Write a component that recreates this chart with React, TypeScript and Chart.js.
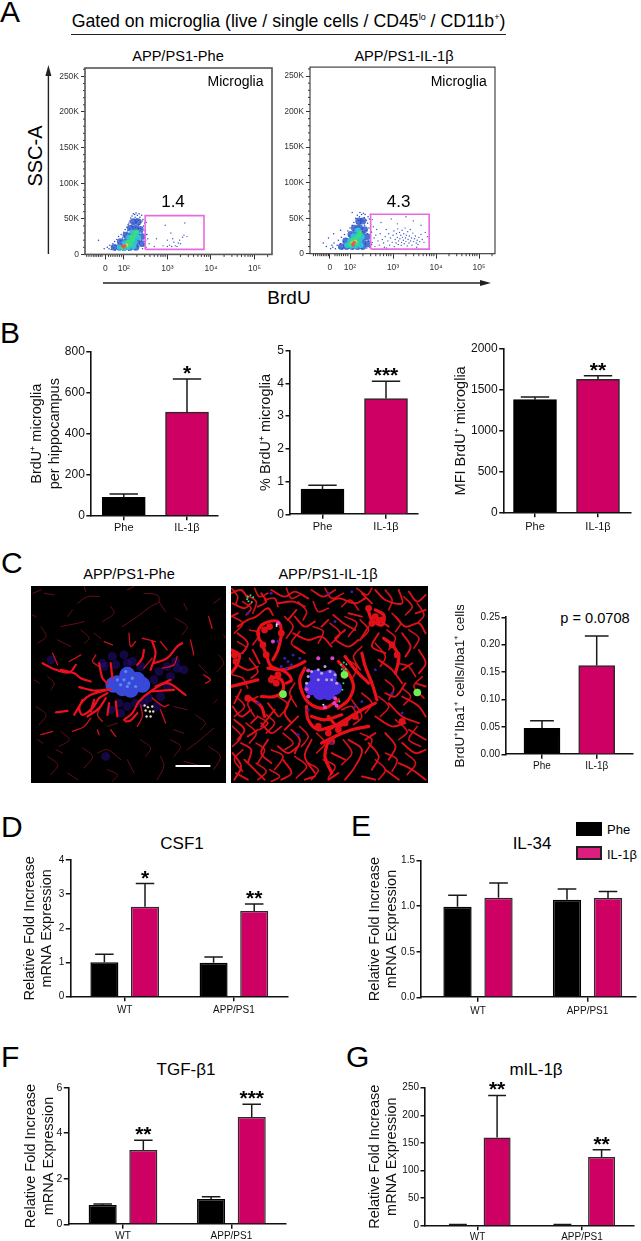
import { useEffect, useRef } from 'react';
import { Chart, registerables } from 'chart.js';

Chart.register(...registerables);

const FONT = '"Liberation Sans", Arial, sans-serif';
Chart.defaults.font.family = FONT;

// ---------- bar data ----------
const groupCats = ['Phe', 'IL-1β'];
const hippoValues = [90, 505];
const hippoErrTop = [106, 667];
const hippoStars = ['', '*'];
const hippoTicks = ['0', '200', '400', '600', '800'];

const percentValues = [0.77, 3.54];
const percentErrTop = [0.886, 4.07];
const percentStars = ['', '***'];
const percentTicks = ['0', '1', '2', '3', '4', '5'];

const mfiValues = [1381, 1629];
const mfiErrTop = [1413, 1674];
const mfiStars = ['', '**'];
const mfiTicks = ['0', '500', '1000', '1500', '2000'];

const ibaValues = [0.0474, 0.162];
const ibaErrTop = [0.0614, 0.216];
const ibaTicks = ['0.00', '0.05', '0.10', '0.15', '0.20', '0.25'];

const genotypes = ['WT', 'APP/PS1'];

const csf1Phe = [1.005, 0.995];
const csf1PheErr = [1.24, 1.16];
const csf1Il = [2.63, 2.51];
const csf1IlErr = [3.31, 2.71];
const csf1Stars = ['*', '**'];
const csf1Ticks = ['0', '1', '2', '3', '4'];

const il34Phe = [0.995, 1.072];
const il34PheErr = [1.12, 1.189];
const il34Il = [1.094, 1.09];
const il34IlErr = [1.255, 1.163];
const il34Ticks = ['0.0', '0.5', '1.0', '1.5'];

const tgfPhe = [0.85, 1.11];
const tgfPheErr = [0.89, 1.21];
const tgfIl = [3.26, 4.71];
const tgfIlErr = [3.69, 5.27];
const tgfStars = ['**', '***'];
const tgfTicks = ['0', '2', '4', '6'];

const milPhe = [1, 1];
const milPheErr = [2, 2];
const milIl = [160, 124.4];
const milIlErr = [236, 137.7];
const milStars = ['**', '**'];
const milTicks = ['0', '50', '100', '150', '200', '250'];

// ---------- flow cytometry data: [decade position, SSC-A in K] pairs ----------
const ssaTicks = ['0', '50K', '100K', '150K', '200K', '250K'];
const ssaTickValues = [0, 50, 100, 150, 200, 250];
const ssaMinor = [10, 20, 30, 40, 60, 70, 80, 90, 110, 120, 130, 140, 160, 170, 180, 190, 210, 220, 230, 240, 260];
const brduTickLabels = ['0', '10²', '10³', '10⁴', '10⁵'];
const brduTicksLeft = [1.58, 2, 3, 4, 5];
const brduTicksRight = [1.53, 2, 3, 4, 5];
const brduMinor = [1.15, 1.2, 1.25, 1.3, 1.34, 1.38, 1.42, 1.46, 1.5, 1.65, 1.7, 1.75, 1.8, 1.85, 1.9, 1.95, 2.3, 2.48, 2.6, 2.7, 2.78, 2.85, 2.9, 2.95, 3.3, 3.48, 3.6, 3.7, 3.78, 3.85, 3.9, 3.95, 4.3, 4.48, 4.6, 4.7, 4.78, 4.85, 4.9, 4.95, 5.3];
const gateXLeft = [2.49, 3.84];
const gateYLeft = [7, 54.5];
const gateXRight = [2.48, 3.84];
const gateYRight = [6.5, 55.5];

const leftBlueFill = [1.78,10, 1.9,10, 2.02,10, 2.15,10, 2.28,10, 1.92,18, 2.05,18, 2.18,18, 2.3,18, 2.42,15, 2.05,27, 2.18,27, 2.3,27, 2.42,25, 2.15,37, 2.27,37, 2.38,35, 2.22,46, 2.33,46];
const leftCyan = [1.9,10, 2.0,9, 2.1,10, 2.22,11, 2.02,16, 2.14,17, 2.25,17, 2.12,24, 2.24,24, 2.33,24, 2.2,31, 2.3,31];
const leftGreen = [1.98,10, 2.08,12, 2.16,14, 2.1,18, 2.2,20, 2.24,26, 2.28,31, 2.18,24];
const leftYellow = [2.0,11, 2.06,13];
const leftRed = [1.97,12, 2.03,12, 2.0,10];
const leftBlue = [1.42,20, 1.55,8, 1.62,10, 1.66,8, 1.68,13, 1.71,7, 1.73,11, 1.75,15, 1.77,9, 1.79,18, 1.8,6, 1.82,13, 1.84,21, 1.85,8, 1.87,16, 1.88,25, 1.9,11, 1.91,7, 1.93,19, 1.94,28, 1.95,14, 1.97,23, 1.98,6, 2.0,31, 2.01,18, 2.02,26, 2.03,35, 2.04,8, 2.06,29, 2.07,38, 2.08,21, 2.09,33, 2.1,42, 2.11,6, 2.12,24, 2.13,36, 2.14,47, 2.15,30, 2.16,51, 2.17,9, 2.18,40, 2.19,54, 2.2,27, 2.21,44, 2.22,57, 2.23,34, 2.24,49, 2.25,7, 2.26,52, 2.27,38, 2.28,58, 2.29,45, 2.3,31, 2.31,55, 2.32,11, 2.33,48, 2.34,41, 2.35,57, 2.36,26, 2.37,52, 2.38,36, 2.39,45, 2.4,19, 2.41,55, 2.42,30, 2.43,8, 2.44,49, 2.45,40, 2.46,14, 2.47,24, 2.48,44, 2.49,34, 2.5,20, 2.51,10, 2.52,28, 2.2,39, 2.12,44, 2.25,56, 2.3,50, 2.36,42, 2.42,47];
const leftGate = [2.52,45, 2.5,33, 2.55,22, 2.58,15, 2.53,28, 2.95,41, 3.4,44, 3.35,24, 2.9,12, 3.0,11, 3.05,13, 3.1,11, 3.15,17, 3.12,22, 3.3,15, 3.22,11, 3.18,12, 2.75,22, 3.0,20, 3.08,30, 3.38,27, 3.45,25, 3.25,16, 2.7,11, 3.28,20];

const rightBlueFill = [1.8,10, 1.92,10, 2.05,10, 2.18,10, 2.3,10, 1.9,18, 2.03,18, 2.16,18, 2.29,18, 2.42,14, 2.02,27, 2.15,27, 2.28,27, 2.4,24, 2.1,36, 2.22,37, 2.34,34, 2.2,46, 2.3,46];
const rightCyan = [1.93,12, 2.03,11, 2.14,11, 2.25,12, 2.0,18, 2.1,19, 2.22,19, 2.08,25, 2.18,26, 2.28,24, 2.18,33];
const rightGreen = [2.0,13, 2.08,13, 2.16,15, 2.06,19, 2.14,21, 2.2,25, 2.23,29];
const rightYellow = [2.05,15, 2.12,17];
const rightRed = [2.06,14, 2.1,16, 2.08,12];
const rightBlue = [1.38,15, 1.45,10, 1.5,22, 1.55,7, 1.58,12, 1.6,9, 1.63,15, 1.66,7, 1.7,12, 1.73,19, 1.75,8, 1.78,14, 1.8,23, 1.82,7, 1.85,17, 1.87,27, 1.9,11, 1.92,21, 1.95,32, 1.97,8, 1.98,25, 2.0,36, 2.02,15, 2.03,28, 2.05,40, 2.06,7, 2.08,32, 2.09,44, 2.1,22, 2.12,36, 2.13,50, 2.14,7, 2.15,29, 2.16,42, 2.17,54, 2.18,33, 2.19,47, 2.2,9, 2.21,38, 2.22,52, 2.23,58, 2.24,43, 2.25,31, 2.26,49, 2.27,55, 2.28,7, 2.29,36, 2.3,46, 2.31,57, 2.32,25, 2.33,51, 2.34,40, 2.35,55, 2.36,14, 2.37,33, 2.38,47, 2.39,8, 2.4,28, 2.41,43, 2.42,52, 2.43,18, 2.44,36, 2.45,49, 2.46,9, 2.47,24, 2.48,41, 2.49,31, 2.5,13, 2.47,55, 1.78,33, 2.05,58, 1.62,28];
const rightGate = [2.52,48, 2.54,38, 2.5,30, 2.56,22, 2.52,16, 2.58,10, 2.6,26, 2.62,34, 2.65,18, 2.68,12, 2.7,28, 2.72,44, 2.75,20, 2.78,15, 2.8,9, 2.82,24, 2.84,34, 2.88,18, 2.9,28, 2.92,12, 2.94,22, 2.96,49, 2.98,16, 3.0,26, 3.02,32, 3.03,10, 3.05,20, 3.07,15, 3.08,28, 3.1,23, 3.11,35, 3.12,13, 3.13,18, 3.15,30, 3.16,21, 3.18,26, 3.19,12, 3.2,16, 3.21,33, 3.22,23, 3.24,19, 3.25,28, 3.26,14, 3.28,36, 3.29,22, 3.3,17, 3.31,26, 3.33,11, 3.34,31, 3.35,20, 3.37,15, 3.38,25, 3.4,34, 3.41,18, 3.43,22, 3.44,12, 3.46,29, 3.48,17, 3.5,21, 3.52,25, 3.54,15, 3.56,19, 3.58,13, 3.6,23, 3.62,17, 3.65,27, 3.68,20, 3.72,16, 3.75,30, 3.8,24, 3.3,52, 3.47,46, 3.1,42, 2.85,8, 3.55,9, 3.65,40];

// ---------- microscopy panels, flat x,y polylines traced on a 600 grid ----------
const leftThick = [
  [155,312,200,322,250,318],[140,395,165,355,190,335,240,320],[165,350,155,375,165,395,195,375,215,345,240,330],
  [85,388,120,383],[180,400,215,375,235,345],[290,410,315,390,335,355,370,325,420,300,475,335],[370,325,440,320],
  [385,310,430,290],[295,415,310,412,330,390],[240,300,225,285,215,240],[255,285,250,240],[330,245,345,225,350,200],
  [380,240,420,225,450,190,465,180],[370,260,385,210,375,175],[45,240,80,258,125,268,145,245],[100,260,140,270,160,285,190,295],
  [245,360,240,395],[265,355,270,400],[200,350,190,385],
];
const leftMid = [
  [490,170,500,215],[305,150,310,190,325,175],[230,175,255,185],[75,210,90,245],[400,380,415,420],[135,445,170,430,190,405],
  [250,440,265,460],[210,440,215,455],[530,275,550,290,535,300],[545,100,555,135],[40,455,75,445],[125,235,160,215],[400,175,420,200],[345,165,385,175],
  [215,250,195,235,205,215],[350,255,375,225],[405,255,440,245,450,220],[225,360,210,395,225,415],[340,365,345,400,330,430],[375,345,410,370,425,365],
];
const leftDim = [
  [350,30,390,35,395,55,370,70,330,100,285,130],[395,55,415,85],[150,60,180,40,215,40],[170,10,175,25],[100,130,150,120,170,115],
  [50,30,80,35],[15,95,25,100],[200,150,220,165],[480,500,520,470,560,435],[30,470,45,480],[400,520,410,550,390,590],[470,535,510,545],
  [120,570,150,590],[210,510,240,500,280,530],[85,500,105,510],[515,245,540,270],[20,290,35,300],[60,280,80,300,70,320],[300,530,320,570],
  [440,440,470,450],[560,360,570,350],[440,370,480,380],[15,30,40,20],[590,155,596,165],[120,100,135,80],[480,80,470,60],[90,170,130,190],
  [225,115,260,90,250,70],[300,20,320,10],[445,105,480,130,465,155],[560,60,580,45],[575,215,590,240,570,265],[505,395,535,420,520,440],
  [160,140,185,165,170,180],[30,180,55,160,40,130],[25,370,55,395,35,425],[100,445,125,470,95,490],[165,495,195,520,170,555],[340,470,370,495,355,520],
  [240,430,270,420],[430,470,460,490,440,520],[545,490,580,520,560,560],[240,560,270,575,255,595],[60,520,90,545,70,575],
];
const leftHaze = [255,220, 290,215, 230,250, 450,255, 470,260, 420,250, 380,290, 400,340, 390,370, 300,370, 280,390, 225,240, 430,280, 70,230, 235,520, 250,380, 350,360, 340,250, 300,240, 420,310, 265,245, 315,235, 395,265, 365,345, 325,360, 275,360, 445,235];
const leftCore = [300,295, 270,300, 300,275, 330,290, 310,320, 285,315, 320,305, 258,305, 345,305];
const leftSpark = [290,290, 305,300, 280,305, 315,285, 300,310, 325,310, 270,290, 295,265];
const leftCell = [352,367, 362,372, 375,370, 355,382, 368,385, 378,385, 358,400, 370,400];

const rightThick = [
  [95,170,90,145,110,120,150,115,160,150,150,200,135,230],[100,175,115,215,130,250,170,265,190,290,175,300],[120,255,160,260,200,250,230,235],
  [400,210,410,250,430,300,445,350],[230,255,215,290,225,335,250,365,290,375,330,350],[330,235,360,270,375,310,360,350,330,375],
  [420,85,430,110,460,125,465,95,440,80],[465,165,490,185,510,220,500,270],[10,200,35,215,25,250,10,270],[235,370,240,410,270,440,310,430],
  [300,440,350,410,400,380,440,360],[280,480,320,460,370,440,420,430],[300,470,290,520,310,570],[130,280,160,290,165,320,140,340,100,340],
  [60,340,100,370,110,400],[10,310,50,300,90,290],[420,300,380,260,350,220],[300,400,330,430,370,400],[250,400,290,410,340,395],
];
const rightMid = [
  [10,30,40,20,60,45],[15,60,50,75,70,60],[30,130,60,110,85,100,120,75,135,95],[130,20,170,40,200,25,240,45],[150,60,195,55,230,70],
  [200,100,230,130,260,115],[250,20,285,40,320,20],[300,60,330,45,380,60,410,45],[315,95,345,120,380,140],[360,90,400,100],
  [440,20,470,50,520,60,510,20],[540,25,565,55,590,35],[500,100,530,130,570,120,590,150],[520,150,545,190,530,220],[570,200,590,240,570,270],
  [450,230,490,260,520,300],[530,300,500,340,470,330],[195,150,240,170,280,160,310,190],[320,170,360,190,390,170],[200,190,230,210],
  [30,150,60,180,45,210],[20,240,60,260,90,250],[75,200,95,240],[450,150,430,190,470,210],[520,340,570,370,590,400],[480,360,520,400,570,420],
  [440,400,490,430,530,420],[540,440,590,470],[470,450,500,490,480,530],[520,480,560,510,590,500],[420,480,450,520,430,560],[510,540,550,560,590,590],
  [360,470,400,500,380,550,350,590],[310,510,350,530],[250,470,230,520,260,570],[190,440,215,470,200,510],[150,490,180,510,210,490],[165,530,190,570,160,590],
  [100,420,130,450,160,430],[120,470,100,510,130,540],[50,530,80,560,110,590],[40,480,70,500,60,540],[20,410,50,440,30,470],[15,510,40,550,20,590],
  [70,380,40,400,15,370],[190,340,170,390,190,420],[120,360,150,400],[210,400,170,440],[90,440,60,460],[440,450,410,470],[330,570,300,590],[260,580,230,590],
  [100,30,115,55,90,70],[205,80,180,110],[350,140,320,165],[480,130,450,110],[420,130,395,170],[560,90,590,80],[550,240,520,260],[40,320,20,360],[70,420,90,400],
  [60,590,25,570],[140,380,100,430],[400,580,440,590],[470,560,510,590],[560,300,590,310],[400,30,430,60],[300,110,280,130],[30,90,10,100],
];
const rightTwigs = [
  [12,15,30,40,25,60],[45,55,70,75,55,95],[80,15,95,40,120,30],[110,50,140,45,150,70],[175,15,190,45,215,35],[210,55,235,85,225,110],[255,55,270,85,300,75],
  [290,15,310,45,345,30],[340,70,365,50,390,80],[385,15,415,35,430,15],[395,110,420,140,400,165],[470,20,490,50,480,80],[525,40,550,70,530,95],[565,60,585,95,565,120],
  [490,90,515,120,500,145],[540,140,570,165,555,195],[475,140,500,165,480,200],[440,180,470,220,455,250],[505,240,540,250,560,280],[580,280,555,310,585,345],
  [520,315,545,340,525,365],[470,290,495,315,480,350],[450,340,480,370,455,400],[400,330,430,360,410,390],[370,350,400,400,375,425],[500,410,535,445,510,470],
  [565,430,540,470,575,490],[470,510,505,530,490,565],[530,510,560,540,535,575],[440,530,470,560,450,590],[395,450,430,470,410,510],[345,470,370,510,340,545],
  [285,530,320,550,300,585],[240,540,270,560,250,590],[200,520,235,550,205,585],[130,500,165,520,140,560],[85,480,110,500,90,540],[45,500,20,530,45,565],
  [85,540,115,565,90,590],[125,560,155,580,130,595],[15,430,40,460,15,490],[55,420,85,450,65,480],[115,395,140,420,115,450],[165,450,195,480,170,500],
  [215,430,240,460,220,490],[265,450,290,480,265,510],[90,340,60,360,80,400],[25,340,50,370,20,400],[15,275,45,285,60,315],[65,225,90,265,70,285],
  [30,175,55,195,20,225],[65,140,95,150,75,185],[15,100,45,120,20,150],[55,35,85,55,75,90],[170,100,195,130,175,165],[215,145,190,180,220,205],
  [255,130,285,145,270,180],[305,120,335,150,310,180],[350,100,385,120,360,160],[400,190,375,220,395,260],[200,300,185,330,205,370],[355,230,385,250,370,290],
  [340,380,370,370,390,410],[150,340,180,365,155,400],[90,400,120,420,95,440],
];
const rightBodies = [440,100, 430,120, 450,112, 130,290, 150,275, 145,300, 420,75, 460,110, 490,185, 505,215, 300,450, 330,440, 110,140, 125,130, 20,215, 25,235, 270,430, 350,420, 160,150, 105,185, 115,215, 310,475, 60,345, 380,400, 520,415];
const rightSpecks = [180,235, 170,225, 190,245, 215,225, 160,250, 240,380, 400,355, 380,370, 195,215, 175,255, 60,90, 130,30, 320,115, 370,25, 520,390, 440,260, 300,30, 210,455, 90,360, 490,330, 310,480, 150,175];
const rightCore = [285,310, 265,300, 305,300, 275,330, 300,330, 250,315, 320,315, 285,285, 265,280, 305,280];
const rightSpark = [240,280, 250,265, 270,260, 290,250, 305,265, 320,275, 235,300, 325,300, 280,270, 295,290, 270,290, 310,290];
const rightMagenta = [240,262, 235,318, 320,345, 325,368, 312,225, 270,225, 290,372, 135,175, 150,120, 240,340, 318,360];
const rightGreenRings = [60,40, 76,42, 62,54, 72,56, 68,36, 58,48, 338,245, 354,243, 340,258, 352,258, 346,238, 346,262, 565,320, 565,335, 333,355, 345,300, 342,320];
const rightGreenBright = [165,333, 348,275, 565,328];
const rightWhite = [146,128, 146,124, 285,365];

const scaleBarX = [445, 550];
const scaleBarY = [549, 549];

// ---------- helpers ----------
const MAGENTA = '#CE0063';
const AXIS = '#111';

type Box = { cl: number; ct: number; cr: number; cb: number; pl: number; pt: number; pr: number; pb: number };

const toPoints = (flat: number[]) => {
  const out: { x: number; y: number }[] = [];
  for (let i = 0; i < flat.length; i += 2) out.push({ x: flat[i], y: flat[i + 1] });
  return out;
};
const toPaths = (paths: number[][]) => {
  const out: any[] = [];
  paths.forEach((p) => {
    out.push(...toPoints(p));
    out.push({ x: null, y: null });
  });
  return out;
};

const boxOptions = (b: Box) => ({
  responsive: false,
  animation: false as const,
  maintainAspectRatio: false,
  layout: { autoPadding: false, padding: { top: b.pt - b.ct, right: b.cr - b.pr, left: 0, bottom: 0 } },
});

const errPlugin = {
  id: 'errorWhiskers',
  afterDatasetsDraw(chart: any) {
    const { ctx, scales } = chart;
    chart.data.datasets.forEach((ds: any, di: number) => {
      chart.getDatasetMeta(di).data.forEach((bar: any, i: number) => {
        const top = scales.y.getPixelForValue(ds.errorTop[i]);
        const half = bar.width * 0.33;
        ctx.save();
        ctx.strokeStyle = '#1a1a1a';
        ctx.lineWidth = 1.5;
        ctx.beginPath();
        ctx.moveTo(bar.x, bar.y);
        ctx.lineTo(bar.x, top);
        ctx.moveTo(bar.x - half, top);
        ctx.lineTo(bar.x + half, top);
        ctx.stroke();
        const star = ds.stars && ds.stars[i];
        if (star) {
          ctx.fillStyle = '#000';
          ctx.font = `bold 21px ${FONT}`;
          ctx.textAlign = 'center';
          ctx.textBaseline = 'alphabetic';
          ctx.fillText(star, bar.x, top + 1);
        }
        ctx.restore();
      });
    });
  },
};

type BarSpec = {
  box: Box;
  cats: string[];
  datasets: any[];
  yMax: number;
  yTicks: string[];
  title: string[];
  titlePad: number;
  titleSize: number;
  titleLine: number;
  centers: [number, number];
  tickSize: number;
  xTickSize: number;
  xPad: number;
  percent?: [number, number];
  thickness?: number;
};

function barConfig(s: BarSpec) {
  const b = s.box;
  const W = b.pr - b.pl;
  const gap = s.centers[1] - s.centers[0];
  return {
    type: 'bar',
    data: { labels: s.cats, datasets: s.datasets },
    plugins: [errPlugin],
    options: {
      ...boxOptions(b),
      barThickness: s.thickness,
      categoryPercentage: s.percent ? s.percent[0] : 1,
      barPercentage: s.percent ? s.percent[1] : 1,
      plugins: { legend: { display: false }, tooltip: { enabled: false } },
      scales: {
        x: {
          type: 'category',
          offset: true,
          afterBuildTicks: (sc: any) => {
            sc._valueRange = W / gap;
            sc._startValue = -(s.centers[0] - b.pl) / gap;
          },
          afterFit: (sc: any) => {
            sc.height = b.cb - b.pb;
          },
          grid: { display: true, offset: false, drawOnChartArea: false, drawTicks: true, tickLength: 4.5, color: AXIS, lineWidth: 1.5 },
          border: { display: true, color: AXIS, width: 1.6 },
          ticks: { color: '#111', padding: s.xPad, font: { size: s.xTickSize }, maxRotation: 0, autoSkip: false },
        },
        y: {
          type: 'linear',
          min: 0,
          max: s.yMax,
          afterBuildTicks: (sc: any) => {
            sc.ticks = s.yTicks.map((t) => ({ value: +t }));
          },
          afterFit: (sc: any) => {
            sc.width = b.pl - b.cl;
          },
          grid: { display: true, drawOnChartArea: false, drawTicks: true, tickLength: 4.5, color: AXIS, lineWidth: 1.5 },
          border: { display: true, color: AXIS, width: 1.6 },
          ticks: { color: '#111', padding: 1.5, font: { size: s.tickSize }, callback: (_v: any, i: number) => s.yTicks[i] },
          title: {
            display: true,
            text: s.title,
            color: '#111',
            font: { size: s.titleSize, lineHeight: s.titleLine },
            padding: { top: s.titlePad, bottom: 0 },
          },
        },
      },
    },
  };
}

const singleDs = (values: number[], errorTop: number[], stars: string[]) => ({
  data: values,
  errorTop,
  stars,
  backgroundColor: ['#000', MAGENTA],
  borderColor: ['#000', '#2a2a2a'],
  borderWidth: 1.5,
});
const groupDs = (name: string, values: number[], errorTop: number[], color: string, stars?: string[]) => ({
  label: name,
  data: values,
  errorTop,
  stars,
  backgroundColor: color,
  borderColor: color === '#000' ? '#000' : '#2a2a2a',
  borderWidth: 1.5,
});

const b1Box: Box = { cl: 20, ct: 340, cr: 225, cb: 540, pl: 90.8, pt: 351.7, pr: 218, pb: 515.7 };
const b2Box: Box = { cl: 250, ct: 340, cr: 425, cb: 540, pl: 290, pt: 350.7, pr: 417.5, pb: 514.3 };
const b3Box: Box = { cl: 445, ct: 340, cr: 638, cb: 540, pl: 503.7, pt: 349, pr: 631, pb: 512.7 };
const cBox: Box = { cl: 445, ct: 605, cr: 638, cb: 775, pl: 506, pt: 617.3, pr: 633, pb: 754.3 };
const dBox: Box = { cl: 16, ct: 850, cr: 295, cb: 1020, pl: 70.3, pt: 860, pr: 287.4, pb: 996.7 };
const eBox: Box = { cl: 360, ct: 850, cr: 641, cb: 1020, pl: 421, pt: 860.7, pr: 636, pb: 997.3 };
const fBox: Box = { cl: 16, ct: 1078, cr: 295, cb: 1241, pl: 68.3, pt: 1087.7, pr: 286, pb: 1224.3 };
const gBox: Box = { cl: 360, ct: 1078, cr: 641, cb: 1241, pl: 425, pt: 1087.7, pr: 634, pb: 1225.7 };

const SUP = '⁺';
const barSpecs: BarSpec[] = [
  { box: b1Box, cats: groupCats, datasets: [singleDs(hippoValues, hippoErrTop, hippoStars)], yMax: 800, yTicks: hippoTicks, title: [`BrdU${SUP} microglia`, 'per hippocampus'], titlePad: 8, titleSize: 14.5, titleLine: 1.25, centers: [123.75, 187], tickSize: 12, xTickSize: 11, xPad: 1, thickness: 43 },
  { box: b2Box, cats: groupCats, datasets: [singleDs(percentValues, percentErrTop, percentStars)], yMax: 5, yTicks: percentTicks, title: [`% BrdU${SUP} microglia`], titlePad: 7, titleSize: 14.5, titleLine: 1.25, centers: [322.5, 386], tickSize: 12, xTickSize: 11, xPad: 2, thickness: 43 },
  { box: b3Box, cats: groupCats, datasets: [singleDs(mfiValues, mfiErrTop, mfiStars)], yMax: 2000, yTicks: mfiTicks, title: [`MFI BrdU${SUP} microglia`], titlePad: 7, titleSize: 14.5, titleLine: 1.25, centers: [535, 598], tickSize: 12, xTickSize: 11, xPad: 3, thickness: 43 },
  { box: cBox, cats: groupCats, datasets: [singleDs(ibaValues, ibaErrTop, ['', ''])], yMax: 0.25, yTicks: ibaTicks, title: [`BrdU${SUP}Iba1${SUP} cells/Iba1${SUP} cells`], titlePad: 7, titleSize: 13.5, titleLine: 1.25, centers: [542, 596.7], tickSize: 10, xTickSize: 10, xPad: 1, thickness: 36 },
  { box: dBox, cats: genotypes, datasets: [groupDs('Phe', csf1Phe, csf1PheErr, '#000'), groupDs('IL-1β', csf1Il, csf1IlErr, MAGENTA, csf1Stars)], yMax: 4, yTicks: csf1Ticks, title: ['Relative Fold Increase', 'mRNA Expression'], titlePad: 6, titleSize: 14.5, titleLine: 1.14, centers: [124.7, 233.9], tickSize: 10, xTickSize: 10, xPad: 3, percent: [0.744, 0.69] },
  { box: eBox, cats: genotypes, datasets: [groupDs('Phe', il34Phe, il34PheErr, '#000'), groupDs('IL-1β', il34Il, il34IlErr, MAGENTA)], yMax: 1.5, yTicks: il34Ticks, title: ['Relative Fold Increase', 'mRNA Expression'], titlePad: 7, titleSize: 14.5, titleLine: 1.14, centers: [478, 587.5], tickSize: 10, xTickSize: 10, xPad: 3, percent: [0.749, 0.69] },
  { box: fBox, cats: genotypes, datasets: [groupDs('Phe', tgfPhe, tgfPheErr, '#000'), groupDs('IL-1β', tgfIl, tgfIlErr, MAGENTA, tgfStars)], yMax: 6, yTicks: tgfTicks, title: ['Relative Fold Increase', 'mRNA Expression'], titlePad: 6, titleSize: 14.5, titleLine: 1.25, centers: [123, 231.4], tickSize: 10.5, xTickSize: 10, xPad: 1, percent: [0.75, 0.69] },
  { box: gBox, cats: genotypes, datasets: [groupDs('Phe', milPhe, milPheErr, '#000'), groupDs('IL-1β', milIl, milIlErr, MAGENTA, milStars)], yMax: 250, yTicks: milTicks, title: ['Relative Fold Increase', 'mRNA Expression'], titlePad: 7, titleSize: 14.5, titleLine: 1.14, centers: [477.5, 582], tickSize: 10, xTickSize: 10, xPad: 1, percent: [0.75, 0.69] },
];

// flow panels
const minorPlugin = (frame: string, frameW: number) => ({
  id: 'flowFrame',
  afterDraw(chart: any) {
    const { ctx, chartArea: a, scales } = chart;
    ctx.save();
    ctx.strokeStyle = '#333';
    ctx.lineWidth = 1;
    ctx.beginPath();
    brduMinor.forEach((v) => {
      const x = scales.x.getPixelForValue(v);
      if (x < a.right) {
        ctx.moveTo(x, a.bottom);
        ctx.lineTo(x, a.bottom + 2.5);
      }
    });
    ssaMinor.forEach((v) => {
      const y = scales.y.getPixelForValue(v);
      ctx.moveTo(a.left, y);
      ctx.lineTo(a.left - 2, y);
    });
    ctx.stroke();
    ctx.strokeStyle = frame;
    ctx.lineWidth = frameW;
    ctx.strokeRect(a.left, a.top, a.right - a.left, a.bottom - a.top);
    ctx.restore();
  },
});

const dots = (flat: number[], color: string, r: number) => ({
  data: toPoints(flat),
  backgroundColor: color,
  borderWidth: 0,
  pointRadius: r,
  showLine: false,
});

// Chart.js paints the first dataset last, so lists written bottom-to-top are flipped.
const bottomUp = (list: any[]) => list.slice().reverse();

function flowConfig(
  b: Box,
  xMin: number,
  xMax: number,
  yMax: number,
  xTicks: number[],
  gateX: number[],
  gateY: number[],
  layers: number[][],
  frame: string,
  frameW: number,
) {
  const gate = [gateX[0], gateY[0], gateX[1], gateY[0], gateX[1], gateY[1], gateX[0], gateY[1], gateX[0], gateY[0]];
  return {
    type: 'scatter',
    data: {
      datasets: bottomUp([
        dots(layers[5], '#2848C0', 0.75),
        dots(layers[0], 'rgba(40,80,200,0.8)', 3.4),
        dots(layers[1], '#2CC4D4', 2.8),
        dots(layers[2], '#3CDC7C', 2.4),
        dots(layers[3], '#C8E050', 1.8),
        dots(layers[4], '#E05858', 1.5),
        dots(layers[6], '#3A58C0', 0.7),
        { data: toPoints(gate), showLine: true, borderColor: '#E86AE0', borderWidth: 1.6, pointRadius: 0, backgroundColor: 'transparent' },
      ]),
    },
    plugins: [minorPlugin(frame, frameW)],
    options: {
      ...boxOptions(b),
      plugins: { legend: { display: false }, tooltip: { enabled: false } },
      scales: {
        x: {
          type: 'linear',
          min: xMin,
          max: xMax,
          afterBuildTicks: (sc: any) => {
            sc.ticks = xTicks.map((value) => ({ value }));
          },
          afterFit: (sc: any) => {
            sc.height = b.cb - b.pb;
          },
          grid: { display: true, drawOnChartArea: false, drawTicks: true, tickLength: 5, color: '#333', lineWidth: 1 },
          border: { display: false },
          ticks: { color: '#333', padding: 4, font: { size: 8.5 }, maxRotation: 0, autoSkip: false, callback: (_v: any, i: number) => brduTickLabels[i] },
        },
        y: {
          type: 'linear',
          min: 0,
          max: yMax,
          afterBuildTicks: (sc: any) => {
            sc.ticks = ssaTickValues.map((value) => ({ value }));
          },
          afterFit: (sc: any) => {
            sc.width = b.pl - b.cl;
          },
          grid: { display: true, drawOnChartArea: false, drawTicks: true, tickLength: 4, color: '#333', lineWidth: 1 },
          border: { display: false },
          ticks: { color: '#333', padding: 2, font: { size: 8.5 }, callback: (_v: any, i: number) => ssaTicks[i] },
        },
      },
    },
  };
}

const flowLeftBox: Box = { cl: 50, ct: 60, cr: 280, cb: 280, pl: 85, pt: 68, pr: 272, pb: 254.4 };
const flowRightBox: Box = { cl: 285, ct: 60, cr: 500, cb: 280, pl: 310, pt: 66, pr: 495, pb: 253.7 };

// microscopy panels
const linePath = (paths: number[][], color: string, w: number) => ({
  data: toPaths(paths),
  showLine: true,
  spanGaps: false,
  tension: 0.35,
  borderColor: color,
  borderWidth: w,
  borderCapStyle: 'round',
  borderJoinStyle: 'round',
  pointRadius: 0,
  backgroundColor: 'transparent',
});

function imageConfig(datasets: any[]) {
  return {
    type: 'scatter',
    data: { datasets: bottomUp(datasets) },
    options: {
      responsive: false,
      animation: false as const,
      maintainAspectRatio: false,
      layout: { autoPadding: false, padding: 0 },
      plugins: { legend: { display: false }, tooltip: { enabled: false } },
      scales: {
        x: { type: 'linear', display: false, min: 10, max: 597 },
        y: { type: 'linear', display: false, reverse: true, min: 8, max: 600 },
      },
    },
  };
}

const leftImage = () =>
  imageConfig([
    dots(leftHaze, 'rgba(36,14,120,0.55)', 4.5),
    linePath(leftDim, '#701018', 0.9),
    dots(leftCore, '#3848D8', 8),
    linePath(leftMid, '#D01020', 1.3),
    linePath(leftThick, '#EE1020', 2.2),
    dots(leftSpark, '#5C8CF0', 1.6),
    dots(leftCell, '#E8D8C8', 1.2),
    { data: [{ x: scaleBarX[0], y: scaleBarY[0] }, { x: scaleBarX[1], y: scaleBarY[1] }], showLine: true, borderColor: '#fff', borderWidth: 2, pointRadius: 0 },
  ]);

const rightImage = () =>
  imageConfig([
    linePath(rightTwigs, '#D81018', 1.6),
    linePath(rightMid, '#E01018', 1.9),
    linePath(rightThick, '#EA1018', 3.2),
    dots(rightBodies, '#E01018', 3.4),
    dots(rightSpecks, '#3A1CB0', 1.5),
    dots(rightCore, '#4A30E0', 7),
    dots(rightSpark, '#B8A8E0', 1.5),
    dots(rightMagenta, '#E040D0', 2),
    dots(rightGreenRings, '#30D890', 1),
    dots(rightGreenBright, '#70F050', 3.8),
    dots(rightWhite, '#E8E8E8', 1),
  ]);

function ChartCanvas({ box, make, style }: { box: { l: number; t: number; w: number; h: number }; make: () => any; style?: any }) {
  const ref = useRef<HTMLCanvasElement | null>(null);
  useEffect(() => {
    const chart = new Chart(ref.current as HTMLCanvasElement, make());
    return () => chart.destroy();
  }, []);
  return (
    <canvas
      ref={ref}
      width={box.w}
      height={box.h}
      style={{ position: 'absolute', left: box.l, top: box.t, width: box.w, height: box.h, ...style }}
    />
  );
}

const rect = (b: Box) => ({ l: b.cl, t: b.ct, w: b.cr - b.cl, h: b.cb - b.ct });

function Label({ x, y, size, children, rotate, anchor = 'center', color = '#000' }: any) {
  const tx = anchor === 'center' ? '-50%' : '0';
  return (
    <span
      style={{
        position: 'absolute',
        left: x,
        top: y,
        fontFamily: FONT,
        fontSize: size,
        color,
        whiteSpace: 'nowrap',
        lineHeight: 1,
        transform: `translate(${tx},-50%)${rotate ? ` rotate(${rotate}deg)` : ''}`,
      }}
    >
      {children}
    </span>
  );
}

export default function App() {
  return (
    <div style={{ position: 'absolute', left: 0, top: 0, width: 641, height: 1241, background: '#fff', overflow: 'hidden' }}>
      {/* Panel A */}
      <Label x={0} y={12} size={30} anchor="start">A</Label>
      <Label x={288.5} y={22} size={17.7}>
        Gated on microglia (live / single cells / CD45<sup style={{ fontSize: 9, lineHeight: 0 }}>lo</sup> / CD11b<sup style={{ fontSize: 9, lineHeight: 0 }}>+</sup>)
      </Label>
      <div style={{ position: 'absolute', left: 71, top: 33.5, width: 435, height: 1.4, background: '#222' }} />
      <Label x={178} y={55.5} size={14.6}>APP/PS1-Phe</Label>
      <Label x={404} y={55.5} size={14.6}>APP/PS1-IL-1β</Label>
      <Label x={35} y={156} size={20} rotate={-90}>SSC-A</Label>
      <Label x={289} y={297} size={19}>BrdU</Label>
      <svg width={641} height={310} style={{ position: 'absolute', left: 0, top: 0 }}>
        <line x1={48.4} y1={254} x2={48.4} y2={70} stroke="#222" strokeWidth={1.4} />
        <polygon points="48.4,65 45.4,76 51.4,76" fill="#222" />
        <line x1={103} y1={283} x2={485} y2={283} stroke="#222" strokeWidth={1.4} />
        <polygon points="491,283 480,280 480,286" fill="#222" />
      </svg>
      <ChartCanvas
        box={rect(flowLeftBox)}
        make={() => flowConfig(flowLeftBox, 1.11, 5.4, 261.7, brduTicksLeft, gateXLeft, gateYLeft, [leftBlueFill, leftCyan, leftGreen, leftYellow, leftRed, leftBlue, leftGate], '#555', 1.6)}
      />
      <ChartCanvas
        box={rect(flowRightBox)}
        make={() => flowConfig(flowRightBox, 1.07, 5.37, 262.6, brduTicksRight, gateXRight, gateYRight, [rightBlueFill, rightCyan, rightGreen, rightYellow, rightRed, rightBlue, rightGate], '#333', 1.1)}
      />
      <Label x={235.5} y={81} size={14}>Microglia</Label>
      <Label x={458.7} y={81} size={14}>Microglia</Label>
      <Label x={173} y={201} size={17}>1.4</Label>
      <Label x={398.7} y={201} size={17}>4.3</Label>

      {/* Panel B */}
      <Label x={0} y={333} size={30} anchor="start">B</Label>
      {/* Panel C */}
      <Label x={1} y={563} size={30} anchor="start">C</Label>
      <Label x={129} y={573.5} size={14.6}>APP/PS1-Phe</Label>
      <Label x={328} y={573.5} size={14.6}>APP/PS1-IL-1β</Label>
      <ChartCanvas box={{ l: 31, t: 586, w: 195, h: 197 }} make={leftImage} style={{ background: '#000', filter: 'blur(0.6px)' }} />
      <ChartCanvas box={{ l: 231, t: 586, w: 197, h: 197 }} make={rightImage} style={{ background: '#000', filter: 'blur(0.6px)' }} />
      <Label x={595} y={618} size={14.6}>p = 0.0708</Label>

      {/* Panels D-G */}
      <Label x={1} y={827} size={30} anchor="start">D</Label>
      <Label x={351} y={826} size={30} anchor="start">E</Label>
      <Label x={1} y={1057} size={30} anchor="start">F</Label>
      <Label x={346} y={1057} size={30} anchor="start">G</Label>
      <Label x={182} y={843} size={17}>CSF1</Label>
      <Label x={532} y={843} size={17}>IL-34</Label>
      <Label x={186} y={1069} size={17}>TGF-β1</Label>
      <Label x={536} y={1069} size={17}>mIL-1β</Label>
      <div style={{ position: 'absolute', left: 576.4, top: 821.7, width: 25.6, height: 14.4, background: '#000' }} />
      <div style={{ position: 'absolute', left: 576.4, top: 846, width: 25.6, height: 14.4, background: '#DC1F7E', border: '2px solid #222', boxSizing: 'border-box' }} />
      <Label x={607} y={829} size={13} anchor="start">Phe</Label>
      <Label x={607} y={854} size={13} anchor="start">IL-1β</Label>

      {barSpecs.map((s, i) => (
        <ChartCanvas key={i} box={rect(s.box)} make={() => barConfig(s)} />
      ))}
    </div>
  );
}
